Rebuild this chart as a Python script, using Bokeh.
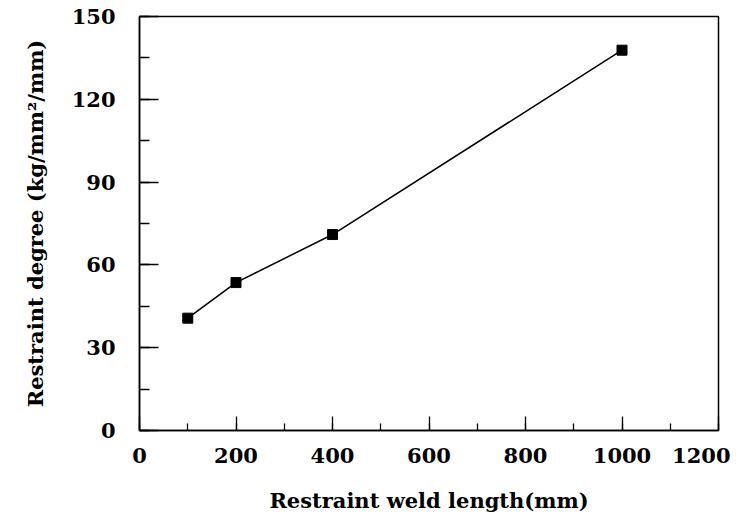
from bokeh.plotting import figure
from bokeh.models import Range1d, SingleIntervalTicker, ColumnDataSource
from bokeh.embed import file_html
from bokeh.resources import INLINE

weld_length = [100, 200, 400, 1000]
restraint_degree = [40.7, 53.6, 71.0, 137.8]
x_label = "Restraint weld length(mm)"
y_label = "Restraint degree (kg/mm\u00b2/mm)"

FONT = "DejaVu Serif"

p = figure(frame_width=579, frame_height=414, output_backend="svg",
           toolbar_location=None, x_range=Range1d(0, 1200), y_range=Range1d(0, 150),
           min_border_left=139, min_border_top=16, min_border_right=12, min_border_bottom=60)
p.background_fill_color = "white"
p.border_fill_color = "white"
p.outline_line_color = "black"
p.outline_line_width = 1.5
p.xgrid.visible = False
p.ygrid.visible = False

p.xaxis.ticker = SingleIntervalTicker(interval=200, num_minor_ticks=2)
p.yaxis.ticker = SingleIntervalTicker(interval=30, num_minor_ticks=2)

for ax in (p.xaxis[0], p.yaxis[0]):
    ax.axis_line_color = "black"
    ax.axis_line_width = 1.5
    ax.major_tick_line_color = "black"
    ax.minor_tick_line_color = "black"
    ax.major_tick_line_width = 1.3
    ax.minor_tick_line_width = 1.3
    ax.major_tick_out = 0
    ax.minor_tick_out = 0
    ax.major_label_text_font = FONT
    ax.major_label_text_font_style = "bold"
    ax.major_label_text_font_size = "21px"
    ax.major_label_text_color = "black"
    ax.axis_label_text_font = FONT
    ax.axis_label_text_font_style = "bold"
    ax.axis_label_text_font_size = "21px"
    ax.axis_label_text_color = "black"

p.xaxis.major_tick_in = 14
p.xaxis.minor_tick_in = 7
p.yaxis.major_tick_in = 19
p.yaxis.minor_tick_in = 10
p.xaxis.major_label_standoff = 17
p.xaxis.axis_label_standoff = 22
p.yaxis.major_label_standoff = 24
p.yaxis.axis_label_standoff = 21
p.xaxis.axis_label = x_label
p.yaxis.axis_label = y_label

src = ColumnDataSource(dict(x=weld_length, y=restraint_degree))
p.line("x", "y", source=src, line_color="black", line_width=1.5)
p.scatter("x", "y", source=src, marker="square", size=10, fill_color="black", line_color="black")

open("out.html", "w").write(file_html(p, INLINE))
